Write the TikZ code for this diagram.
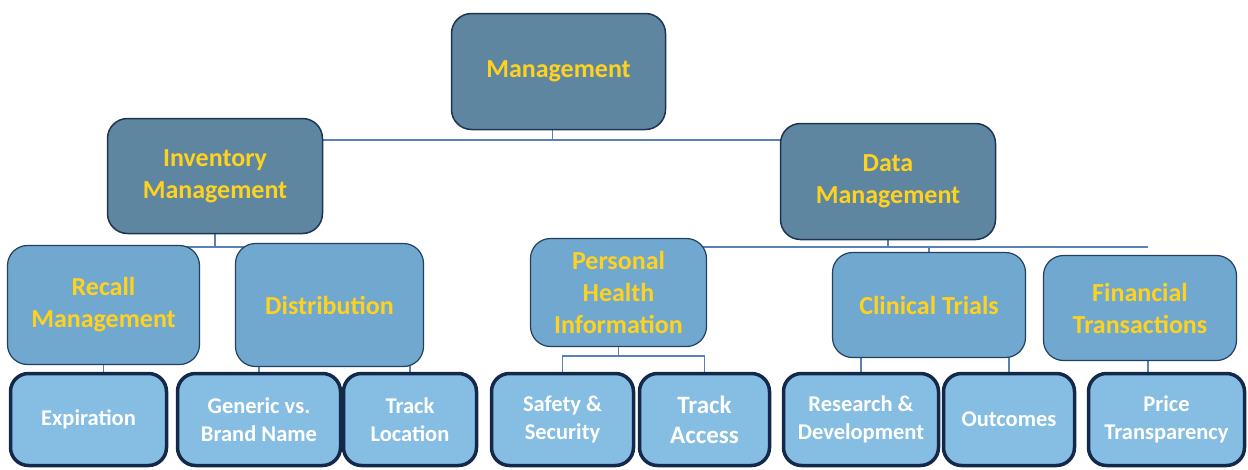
\documentclass[tikz,border=0pt]{standalone}
\usepackage{fontspec}
\setmainfont{Carlito}
\usepackage{xcolor}
\usetikzlibrary{backgrounds}
\definecolor{topfill}{HTML}{5E86A1}
\definecolor{topdraw}{HTML}{1E3550}
\definecolor{midfill}{HTML}{70A8CF}
\definecolor{middraw}{HTML}{23405F}
\definecolor{leaffill}{HTML}{86BDE3}
\definecolor{leafdraw}{HTML}{14284A}
\definecolor{linecol}{HTML}{5A80B8}
\definecolor{textgold}{HTML}{FFD21F}

\begin{document}
\begin{tikzpicture}[x=1pt,y=-1pt,
	top node/.style={rectangle, rounded corners=20pt, draw=topdraw, line width=1.5pt, fill=topfill, text=textgold, font=\bfseries\fontsize{26}{32}\selectfont, align=center, inner sep=0pt},
	mid node/.style={top node, draw=middraw, line width=1.2pt, fill=midfill},
	leaf node/.style={rectangle, rounded corners=18pt, draw=leafdraw, line width=3.5pt, fill=leaffill, text=white, font=\bfseries\fontsize{22.5}{28}\selectfont, align=center, inner sep=0pt, minimum height=92pt},
	link/.style={draw=linecol, line width=1.4pt}]
	\useasboundingbox (0,0) rectangle (1248,469);
			% Nodes
			\node[top node, minimum width=214pt, minimum height=116pt] (1) at (558.5,71.5) {Management};
			\node[top node, minimum width=215pt, minimum height=115pt] (2) at (215,176) {Inventory\\Management};
			\node[top node, minimum width=215pt, minimum height=116pt] (3) at (888,181.5) {Data\\Management};
			
			\node[mid node, minimum width=192pt, minimum height=119pt] (4) at (103.5,305) {Recall\\Management};
			\node[mid node, minimum width=188pt, minimum height=123pt] (5) at (329.5,305) {Distribution};
			\node[mid node, minimum width=176pt, minimum height=108pt] (6) at (618.5,292.5) {Personal\\Health\\Information};
			\node[mid node, minimum width=193pt, minimum height=105pt] (7) at (929,305) {Clinical Trials};
			\node[mid node, minimum width=193pt, minimum height=105pt] (8) at (1140,308) {Financial\\Transactions};
			
			\node[leaf node, minimum width=156pt] (9) at (88.5,419.5) {Expiration};
			\node[leaf node, minimum width=163pt] (10) at (259,419.5) {Generic vs.\\Brand Name};
			\node[leaf node, minimum width=133pt] (11) at (410,419.5) {Track\\Location};
			\node[leaf node, minimum width=142pt] (12) at (562.5,419.5) {Safety \&\\Security};
			\node[leaf node, minimum width=130pt, font=\bfseries\fontsize{25}{30}\selectfont] (13) at (704.5,419.5) {Track\\Access};
			\node[leaf node, minimum width=155pt] (14) at (861,419.5) {Research \&\\Development};
			\node[leaf node, minimum width=131pt] (15) at (1009,419.5) {Outcomes};
			\node[leaf node, minimum width=156pt] (16) at (1166.5,419.5) {Price\\Transparency};
			
			% Connectors
			\coordinate (a) at (0,140);
			\coordinate (b) at (0,247);
			\coordinate (c) at (0,356);
			\begin{scope}[on background layer]
			\path[link]
			([xshift=-6pt]1.center) -- ([xshift=-6pt]1.center |- a)
			(2.center |- a) -- (3.center |- a)
			(2.center) -- (2.center |- b)
			(4.center |- b) -- (5.center |- b)
			(4.center) -- (4.center |- 9.center)
			(10.center) |- (5.center) -| (11.center)
			(3.center) -- (3.center |- b)
			(6.center |- b) -- ([xshift=8pt]8.center |- b)
			(7.center) -- (7.center |- b)
			([xshift=8pt]8.center) -- ([xshift=8pt]8.center |- 16.center)
			(6.center) -- (6.center |- c)
			(12.center) |- (c -| 13.center) -- (13.center)
			(14.center) |- (7.center) -| (15.center);
			\end{scope}
			
		\end{tikzpicture}
\end{document}
